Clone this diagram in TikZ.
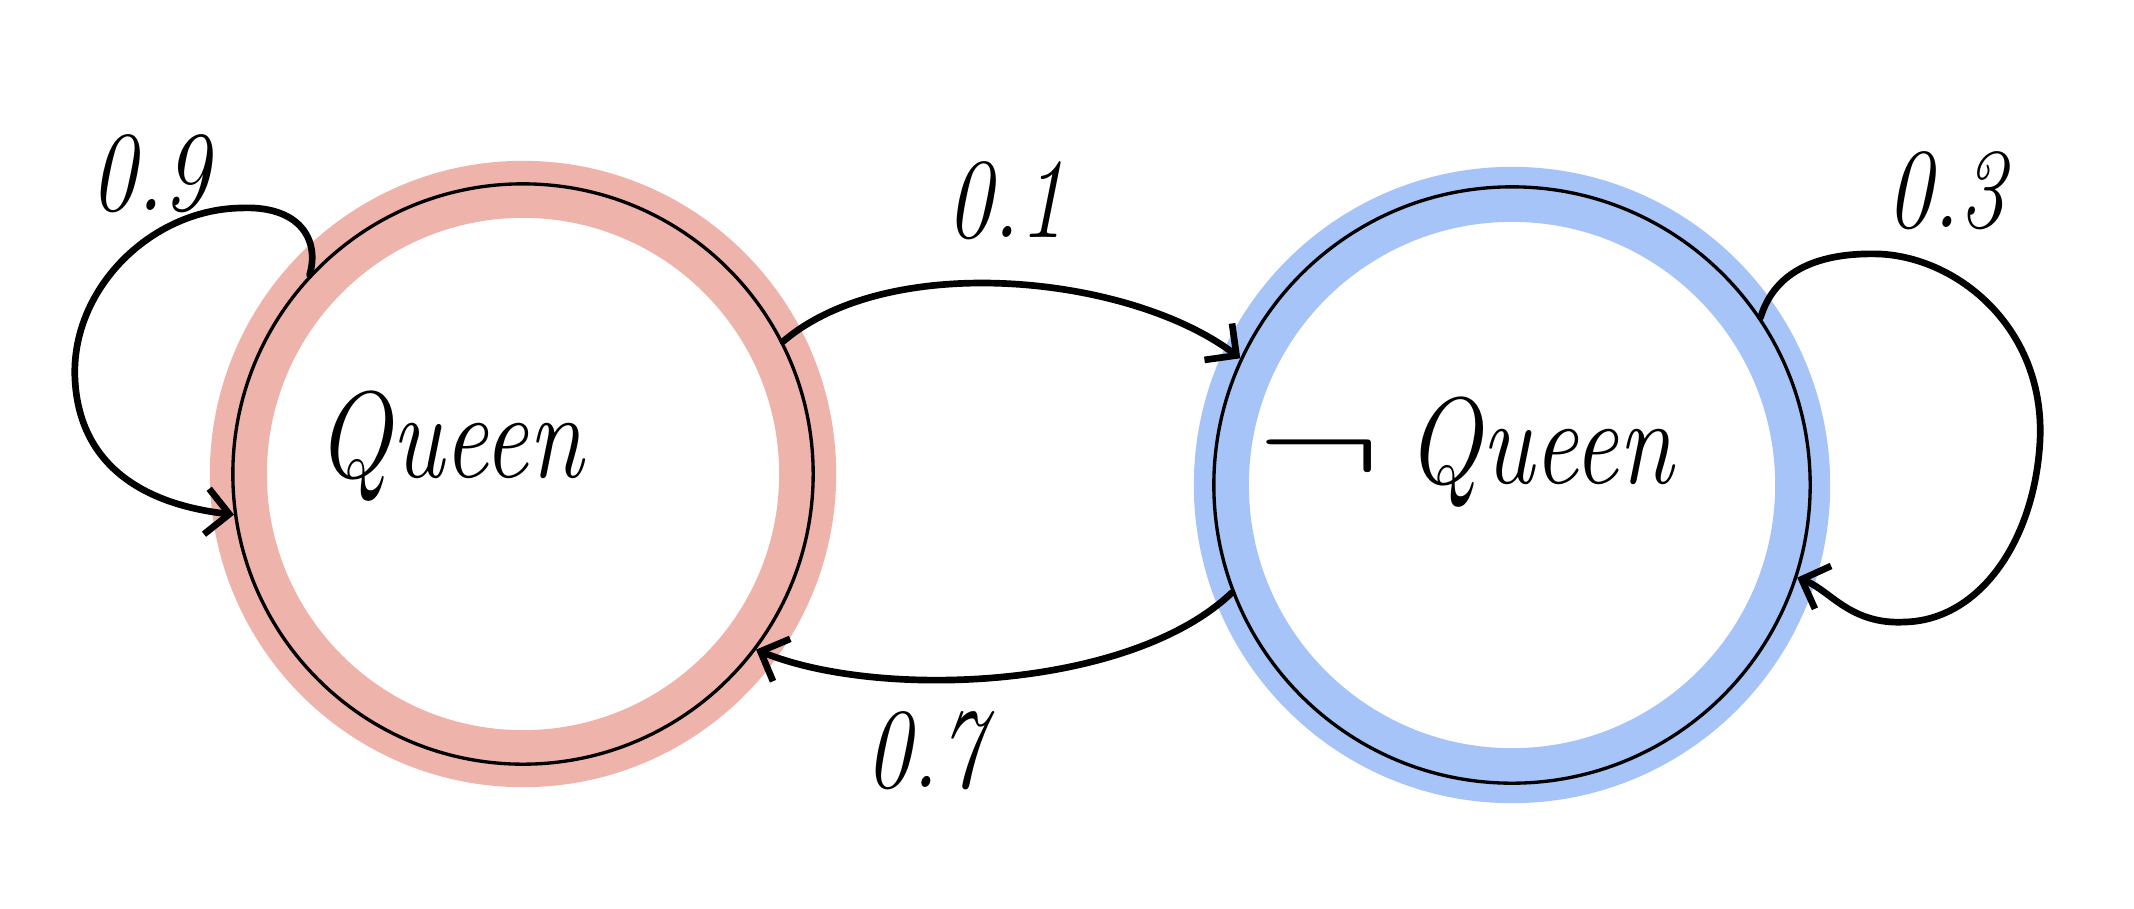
\documentclass[tikz,border=0pt]{standalone}
\usetikzlibrary{arrows.meta}
\definecolor{ringpink}{HTML}{EEB3AA}
\definecolor{ringblue}{HTML}{A6C4F7}
\newcommand{\hw}[1]{\scalebox{0.81}[1]{\itshape #1}}
\newcommand{\hwnum}[1]{\scalebox{0.9}[1.12]{\itshape #1}}
\begin{document}
\begin{tikzpicture}[x=0.01cm,y=-0.01cm,
  stateL/.style={circle, draw=black, line width=0.95pt, minimum size=5.8cm, inner sep=0pt},
  stateR/.style={circle, draw=black, line width=0.95pt, minimum size=5.96cm, inner sep=0pt},
  edge/.style={line width=1.9pt, line cap=round, line join=round,
    -{Straight Barb[length=6.5pt,width=13pt,line width=1.9pt]}},
  lbl/.style={font=\fontsize{29}{34}\selectfont, inner sep=0pt},
  qlbl/.style={font=\fontsize{35}{40}\selectfont, inner sep=0pt}]
\useasboundingbox (0,0) rectangle (2134,908);
% rings
\fill[ringpink, even odd rule] (523,474) circle[radius=3.13cm] circle[radius=2.56cm];
\fill[ringblue, even odd rule] (1512,485) circle[radius=3.18cm] circle[radius=2.63cm];
% states
\node[stateL] (L) at (523,474) {};
\node[stateR] (R) at (1512,485) {};
\node[qlbl] (LQ) at (450,446) {\hw{Queen}};
\node[qlbl] (RQ) at (1465,452) {\scalebox{2.15}[1.4]{$\neg$}\hspace{0.2em}\hw{Queen}};
% edges
\draw[edge] (L.137) .. controls (320,240) and (300,205) .. (240,208)
  .. controls (150,210) and (70,290) .. (75,380)
  .. controls (80,470) and (150,505) .. (L.188);
\draw[edge] (L.27) .. controls (890,250) and (1130,275) .. (R.155);
\draw[edge] (R.201) .. controls (1130,690) and (880,700) .. (L.-37);
\draw[edge] (R.34) .. controls (1775,270) and (1820,252) .. (1880,254)
  .. controls (1960,258) and (2045,330) .. (2040,440)
  .. controls (2035,540) and (1980,620) .. (1905,622)
  .. controls (1850,625) and (1830,590) .. (R.-18);
% labels
\node[lbl] (l09) at (150,174) {\hwnum{0.9}};
\node[lbl] (l01) at (1006,201) {\hwnum{0.1}};
\node[lbl] (l07) at (925,751) {\hwnum{0.7}};
\node[lbl] (l03) at (1946,191) {\hwnum{0.3}};
\end{tikzpicture}
\end{document}
